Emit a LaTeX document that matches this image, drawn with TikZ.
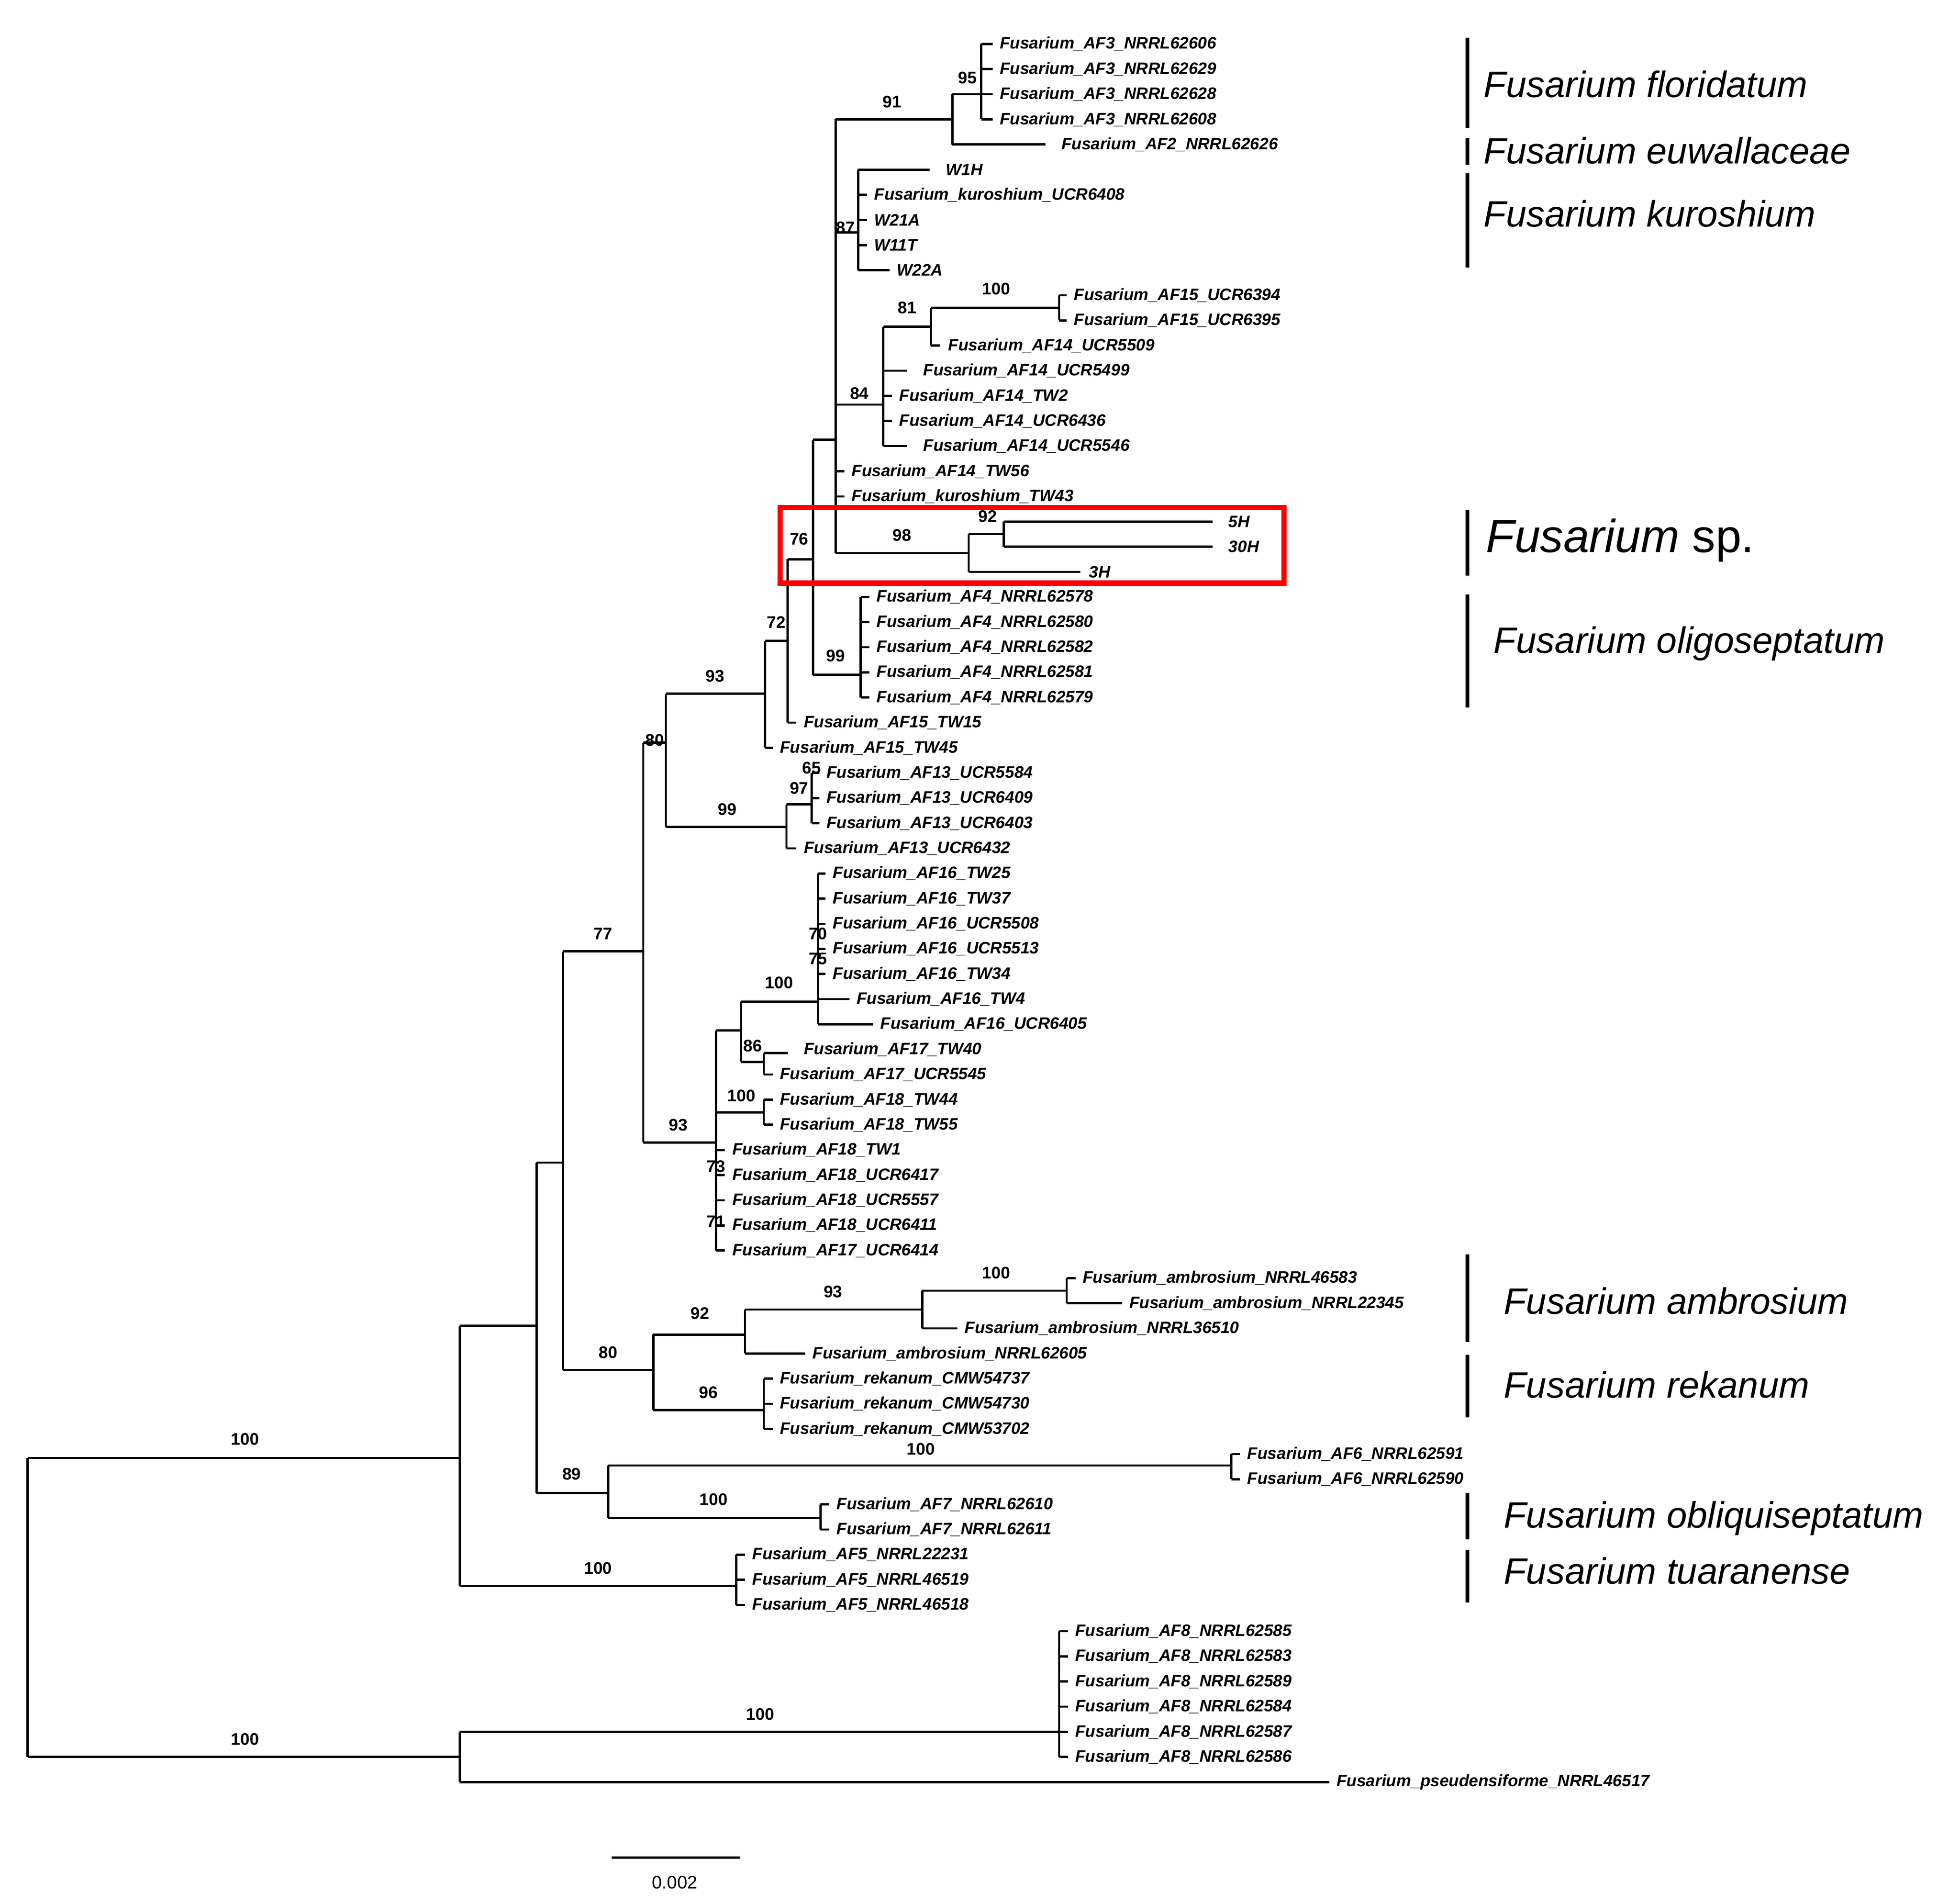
\documentclass[tikz,border=0pt]{standalone}
\usepackage{fontspec}
\setmainfont{Liberation Sans}
\begin{document}
\begin{tikzpicture}[x=0.01cm,y=-0.01cm,line width=0.5pt,
 lab/.style={anchor=west,inner sep=0,font=\fontsize{3.75}{5}\selectfont\bfseries\itshape},
 bs/.style={inner sep=0,font=\fontsize{3.8}{5}\selectfont\bfseries},
 sp/.style={anchor=west,inner sep=0,font=\fontsize{8.3}{10}\selectfont\itshape},
 bar/.style={line width=0.8pt}]
\useasboundingbox (0,0) rectangle (1560,1515);
% root
\draw (22,1160)--(22,1398);
\draw (22,1160)--(366,1160) (22,1398)--(366,1398);
\node[bs] at (195,1145){100}; \node[bs] at (195,1384){100};
% B
\draw (366,1378)--(366,1418) (366,1378)--(843,1378) (366,1418)--(1058,1418);
\node[bs] at (605,1364){100};
\draw (843,1298)--(843,1398);
\foreach \y in {1298,1318,...,1398}{\draw (843,\y)--(850,\y);}
% A
\draw (366,1055)--(366,1262) (366,1055)--(427,1055) (366,1262)--(586,1262);
\node[bs] at (476,1248){100};
\draw (586,1237)--(586,1277);
\foreach \y in {1237,1257,1277}{\draw (586,\y)--(593,\y);}
% C
\draw (427,925)--(427,1188) (427,925)--(448,925) (427,1188)--(484,1188);
\node[bs] at (455,1173){89};
% E
\draw (484,1166)--(484,1208) (484,1166)--(980,1166) (484,1208)--(653,1208);
\node[bs] at (733,1153){100}; \node[bs] at (568,1193){100};
\draw (980,1157)--(980,1177) (980,1157)--(987,1157) (980,1177)--(987,1177);
\draw (653,1197)--(653,1217) (653,1197)--(660,1197) (653,1217)--(660,1217);
% D
\draw (448,757)--(448,1090) (448,757)--(512,757) (448,1090)--(520,1090);
\node[bs] at (480,743){77}; \node[bs] at (484,1076){80};
% G
\draw (520,1062)--(520,1122) (520,1062)--(593,1062) (520,1122)--(608,1122);
\node[bs] at (557,1045){92}; \node[bs] at (564,1108){96};
\draw (608,1097)--(608,1137);
\foreach \y in {1097,1117,1137}{\draw (608,\y)--(615,\y);}
% H
\draw (593,1042)--(593,1077) (593,1042)--(734,1042) (593,1077)--(641,1077);
\node[bs] at (663,1028){93};
\draw (734,1027)--(734,1057) (734,1027)--(849,1027) (734,1057)--(762,1057);
\node[bs] at (793,1013){100};
\draw (849,1017)--(849,1037) (849,1017)--(856,1017) (849,1037)--(893,1037);
% F
\draw (512,591)--(512,909) (512,591)--(530,591) (512,909)--(570,909);
\node[bs] at (521,589){80}; \node[bs] at (540,895){93};
% K
\draw (530,552)--(530,658) (530,552)--(609,552) (530,658)--(626,658);
\node[bs] at (569,538){93}; \node[bs] at (579,644){99};
% N
\draw (626,640)--(626,675) (626,640)--(646,640) (626,675)--(634,675);
\node[bs] at (636,627){97};
\draw (646,615)--(646,655);
\foreach \y in {615,635,655}{\draw (646,\y)--(652,\y);}
\node[bs] at (646,611){65};
% M
\draw (609,510)--(609,595) (609,510)--(627,510) (609,595)--(615,595);
\node[bs] at (618,495){72};
\draw (627,445)--(627,575) (627,445)--(647,445) (627,575)--(634,575);
\node[bs] at (636,429){76};
\draw (647,350)--(647,537) (647,350)--(665,350) (647,537)--(685,537);
\node[bs] at (665,522){99};
\draw (685,475)--(685,555);
\foreach \y in {475,495,...,555}{\draw (685,\y)--(692,\y);}
% R
\draw (665,95)--(665,440) (665,95)--(758,95) (665,185)--(683,185) (665,322)--(703,322)
 (665,375)--(672,375) (665,395)--(672,395) (665,440)--(771,440);
\node[bs] at (710,81){91}; \node[bs] at (673,181){87}; \node[bs] at (684,313){84}; \node[bs] at (718,426){98};
\draw (758,75)--(758,115) (758,75)--(781,75) (758,115)--(832,115);
\node[bs] at (770,62){95};
\draw (781,35)--(781,95);
\foreach \y in {35,55,75,95}{\draw (781,\y)--(790,\y);}
\draw (683,135)--(683,215) (683,135)--(740,135) (683,215)--(708,215);
\foreach \y in {155,175,195}{\draw (683,\y)--(690,\y);}
\draw (703,260)--(703,355) (703,260)--(741,260) (703,295)--(722,295) (703,315)--(710,315)
 (703,335)--(710,335) (703,355)--(722,355);
\node[bs] at (722,245){81};
\draw (741,245)--(741,275) (741,245)--(843,245) (741,275)--(748,275);
\node[bs] at (793,230){100};
\draw (843,235)--(843,255) (843,235)--(849,235) (843,255)--(849,255);
\draw (771,425)--(771,455) (771,425)--(799,425) (771,455)--(860,455);
\node[bs] at (786,411){92};
\draw (799,415)--(799,435) (799,415)--(965,415) (799,435)--(965,435);
% L
\draw (570,820)--(570,995) (570,820)--(590,820) (570,885)--(608,885);
\foreach \y in {915,935,...,995}{\draw (570,\y)--(577,\y);}
\node[bs] at (590,872){100}; \node[bs] at (570,928){73}; \node[bs] at (570,972){71};
\draw (608,875)--(608,895) (608,875)--(615,875) (608,895)--(615,895);
\draw (590,797)--(590,845) (590,797)--(651,797) (590,845)--(608,845);
\node[bs] at (620,782){100}; \node[bs] at (599,832){86};
\draw (608,838)--(608,855) (608,838)--(627,838) (608,855)--(615,855);
\draw (651,695)--(651,815) (651,795)--(676,795) (651,815)--(695,815);
\foreach \y in {695,715,...,775}{\draw (651,\y)--(657,\y);}
\node[bs] at (651,743){70}; \node[bs] at (651,763){75};
% labels
\foreach \t/\y in {AF3\_NRRL62606/35,AF3\_NRRL62629/55,AF3\_NRRL62628/75,AF3\_NRRL62608/95}{\node[lab] at (795,\y){Fusarium\_\t};}
\node[lab] at (844,115){Fusarium\_AF2\_NRRL62626};
\node[lab] at (752,135){W1H};
\node[lab] at (695,155){Fusarium\_kuroshium\_UCR6408};
\node[lab] at (695,175){W21A}; \node[lab] at (695,195){W11T}; \node[lab] at (713,215){W22A};
\node[lab] at (854,235){Fusarium\_AF15\_UCR6394}; \node[lab] at (854,255){Fusarium\_AF15\_UCR6395};
\node[lab] at (754,275){Fusarium\_AF14\_UCR5509}; \node[lab] at (734,295){Fusarium\_AF14\_UCR5499};
\node[lab] at (715,315){Fusarium\_AF14\_TW2}; \node[lab] at (715,335){Fusarium\_AF14\_UCR6436};
\node[lab] at (734,355){Fusarium\_AF14\_UCR5546}; \node[lab] at (677,375){Fusarium\_AF14\_TW56};
\node[lab] at (677,395){Fusarium\_kuroshium\_TW43};
\node[lab] at (977,415){5H}; \node[lab] at (977,435){30H}; \node[lab] at (866,455){3H};
\foreach \t/\y in {62578/475,62580/495,62582/515,62581/535,62579/555}{\node[lab] at (697,\y){Fusarium\_AF4\_NRRL\t};}
\node[lab] at (639,575){Fusarium\_AF15\_TW15}; \node[lab] at (620,595){Fusarium\_AF15\_TW45};
\node[lab] at (657,615){Fusarium\_AF13\_UCR5584}; \node[lab] at (657,635){Fusarium\_AF13\_UCR6409};
\node[lab] at (657,655){Fusarium\_AF13\_UCR6403}; \node[lab] at (639,675){Fusarium\_AF13\_UCR6432};
\foreach \t/\y in {TW25/695,TW37/715,UCR5508/735,UCR5513/755,TW34/775}{\node[lab] at (662,\y){Fusarium\_AF16\_\t};}
\node[lab] at (681,795){Fusarium\_AF16\_TW4}; \node[lab] at (700,815){Fusarium\_AF16\_UCR6405};
\node[lab] at (639,835){Fusarium\_AF17\_TW40}; \node[lab] at (620,855){Fusarium\_AF17\_UCR5545};
\node[lab] at (620,875){Fusarium\_AF18\_TW44}; \node[lab] at (620,895){Fusarium\_AF18\_TW55};
\foreach \t/\y in {AF18\_TW1/915,AF18\_UCR6417/935,AF18\_UCR5557/955,AF18\_UCR6411/975,AF17\_UCR6414/995}{\node[lab] at (582,\y){Fusarium\_\t};}
\node[lab] at (861,1017){Fusarium\_ambrosium\_NRRL46583};
\node[lab] at (898,1037){Fusarium\_ambrosium\_NRRL22345};
\node[lab] at (767,1057){Fusarium\_ambrosium\_NRRL36510};
\node[lab] at (646,1077){Fusarium\_ambrosium\_NRRL62605};
\foreach \t/\y in {54737/1097,54730/1117,53702/1137}{\node[lab] at (620,\y){Fusarium\_rekanum\_CMW\t};}
\node[lab] at (992,1157){Fusarium\_AF6\_NRRL62591}; \node[lab] at (992,1177){Fusarium\_AF6\_NRRL62590};
\node[lab] at (665,1197){Fusarium\_AF7\_NRRL62610}; \node[lab] at (665,1217){Fusarium\_AF7\_NRRL62611};
\foreach \t/\y in {22231/1237,46519/1257,46518/1277}{\node[lab] at (598,\y){Fusarium\_AF5\_NRRL\t};}
\foreach \t/\y in {62585/1298,62583/1318,62589/1338,62584/1358,62587/1378,62586/1398}{\node[lab] at (855,\y){Fusarium\_AF8\_NRRL\t};}
\node[lab] at (1063,1418){Fusarium\_pseudensiforme\_NRRL46517};
% red box
\draw[red,line width=1.2pt] (621,404) rectangle (1022,464);
% species bars
\draw[bar] (1168,30)--(1168,102) (1168,110)--(1168,131) (1168,138)--(1168,213) (1168,406)--(1168,458)
 (1168,473)--(1168,563) (1168,998)--(1168,1068) (1168,1078)--(1168,1128) (1168,1188)--(1168,1225) (1168,1233)--(1168,1275);
\node[sp] at (1180,67){Fusarium floridatum};
\node[sp] at (1180,120){Fusarium euwallaceae};
\node[sp] at (1180,170){Fusarium kuroshium};
\node[anchor=west,inner sep=0,font=\fontsize{10.5}{12}\selectfont] at (1182,430){\textit{Fusarium} sp.};
\node[sp] at (1188,512){Fusarium oligoseptatum};
\node[sp] at (1196,1035){Fusarium ambrosium};
\node[sp] at (1196,1102){Fusarium rekanum};
\node[sp] at (1196,1208){Fusarium obliquiseptatum};
\node[sp] at (1196,1250){Fusarium tuaranense};
% scale bar
\draw (487,1478)--(589,1478);
\node[inner sep=0,font=\fontsize{4.1}{5}\selectfont] at (537,1498){0.002};
\end{tikzpicture}
\end{document}
